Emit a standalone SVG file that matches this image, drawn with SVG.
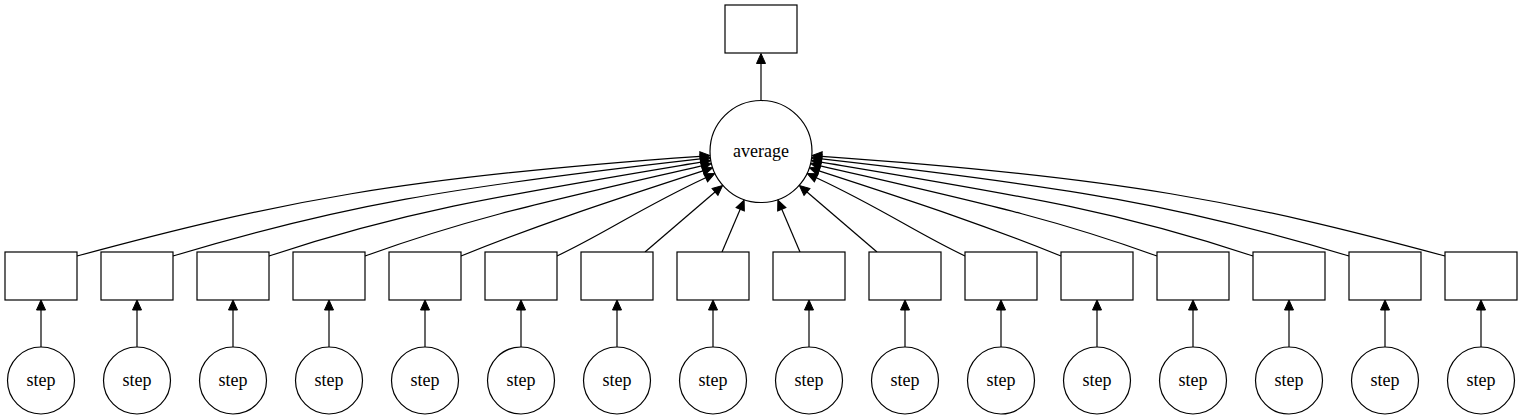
<svg xmlns="http://www.w3.org/2000/svg" width="1523" height="419" viewBox="0 0 1523 419">
<style>
.box{fill:#fff;stroke:#000;stroke-width:1.2}
.circ{fill:#fff;stroke:#000;stroke-width:1.2}
.edge{fill:none;stroke:#000;stroke-width:1.2;marker-end:url(#ah)}
</style>
<defs>
<marker id="ah" markerUnits="userSpaceOnUse" markerWidth="14" markerHeight="12" viewBox="-1 -6 14 12" refX="0" refY="0" orient="auto" overflow="visible">
<path d="M0,-4.5 L10,0 L0,4.5 Z" fill="#000" stroke="#000" stroke-width="1"/>
</marker>
</defs>
<rect width="1523" height="419" fill="#fff"/>
<g id="connectors">
<path class="edge" d="M761,100.5 L761,63.5"/>
<path class="edge" d="M41,347 L41,310"/>
<path class="edge" d="M137,347 L137,310"/>
<path class="edge" d="M233,347 L233,310"/>
<path class="edge" d="M329,347 L329,310"/>
<path class="edge" d="M425,347 L425,310"/>
<path class="edge" d="M521,347 L521,310"/>
<path class="edge" d="M617,347 L617,310"/>
<path class="edge" d="M713,347 L713,310"/>
<path class="edge" d="M809,347 L809,310"/>
<path class="edge" d="M905,347 L905,310"/>
<path class="edge" d="M1001,347 L1001,310"/>
<path class="edge" d="M1097,347 L1097,310"/>
<path class="edge" d="M1193,347 L1193,310"/>
<path class="edge" d="M1289,347 L1289,310"/>
<path class="edge" d="M1385,347 L1385,310"/>
<path class="edge" d="M1481,347 L1481,310"/>
<path class="edge" d="M77,256 C277,202 400.8,177.2 700.1,156.3"/>
<path class="edge" d="M173,256 C342,205.3 449,187.5 700.4,158.9"/>
<path class="edge" d="M269,256 C407,210.5 496.6,196.3 700.8,162.1"/>
<path class="edge" d="M365,256 C473,217.1 543.7,202.3 701.6,165.8"/>
<path class="edge" d="M461,256 C538,225.2 592.7,206.7 703,170.9"/>
<path class="edge" d="M557,256 C605,233.4 640.4,208.2 705.7,177.8"/>
<path class="edge" d="M645,252 L715,192"/>
<path class="edge" d="M722,252 L740.2,209.3"/>
<path class="edge" d="M800,252 L781.8,209.3"/>
<path class="edge" d="M877,252 L807,192"/>
<path class="edge" d="M965,256 C917,233.4 881.6,208.2 816.3,177.8"/>
<path class="edge" d="M1061,256 C984,225.2 929.3,206.7 819,170.9"/>
<path class="edge" d="M1157,256 C1049,217.1 978.3,202.3 820.4,165.8"/>
<path class="edge" d="M1253,256 C1115,210.5 1025.4,196.3 821.2,162.1"/>
<path class="edge" d="M1349,256 C1180,205.3 1073,187.5 821.6,158.9"/>
<path class="edge" d="M1445,256 C1245,202 1121.2,177.2 821.9,156.3"/>
</g>
<g id="result"><rect class="box" x="725" y="5" width="72" height="48"/></g>
<g id="average"><circle class="circ" cx="761" cy="151.5" r="51"/><text font-family="Liberation Serif" font-size="18" text-anchor="middle" x="761" y="157">average</text></g>
<g id="box0"><rect class="box" x="5" y="252" width="72" height="48"/></g>
<g id="box1"><rect class="box" x="101" y="252" width="72" height="48"/></g>
<g id="box2"><rect class="box" x="197" y="252" width="72" height="48"/></g>
<g id="box3"><rect class="box" x="293" y="252" width="72" height="48"/></g>
<g id="box4"><rect class="box" x="389" y="252" width="72" height="48"/></g>
<g id="box5"><rect class="box" x="485" y="252" width="72" height="48"/></g>
<g id="box6"><rect class="box" x="581" y="252" width="72" height="48"/></g>
<g id="box7"><rect class="box" x="677" y="252" width="72" height="48"/></g>
<g id="box8"><rect class="box" x="773" y="252" width="72" height="48"/></g>
<g id="box9"><rect class="box" x="869" y="252" width="72" height="48"/></g>
<g id="box10"><rect class="box" x="965" y="252" width="72" height="48"/></g>
<g id="box11"><rect class="box" x="1061" y="252" width="72" height="48"/></g>
<g id="box12"><rect class="box" x="1157" y="252" width="72" height="48"/></g>
<g id="box13"><rect class="box" x="1253" y="252" width="72" height="48"/></g>
<g id="box14"><rect class="box" x="1349" y="252" width="72" height="48"/></g>
<g id="box15"><rect class="box" x="1445" y="252" width="72" height="48"/></g>
<g font-family="Liberation Serif" font-size="18" text-anchor="middle">
<g id="step0"><circle class="circ" cx="41" cy="380.5" r="33.5"/><text x="41" y="386">step</text></g>
<g id="step1"><circle class="circ" cx="137" cy="380.5" r="33.5"/><text x="137" y="386">step</text></g>
<g id="step2"><circle class="circ" cx="233" cy="380.5" r="33.5"/><text x="233" y="386">step</text></g>
<g id="step3"><circle class="circ" cx="329" cy="380.5" r="33.5"/><text x="329" y="386">step</text></g>
<g id="step4"><circle class="circ" cx="425" cy="380.5" r="33.5"/><text x="425" y="386">step</text></g>
<g id="step5"><circle class="circ" cx="521" cy="380.5" r="33.5"/><text x="521" y="386">step</text></g>
<g id="step6"><circle class="circ" cx="617" cy="380.5" r="33.5"/><text x="617" y="386">step</text></g>
<g id="step7"><circle class="circ" cx="713" cy="380.5" r="33.5"/><text x="713" y="386">step</text></g>
<g id="step8"><circle class="circ" cx="809" cy="380.5" r="33.5"/><text x="809" y="386">step</text></g>
<g id="step9"><circle class="circ" cx="905" cy="380.5" r="33.5"/><text x="905" y="386">step</text></g>
<g id="step10"><circle class="circ" cx="1001" cy="380.5" r="33.5"/><text x="1001" y="386">step</text></g>
<g id="step11"><circle class="circ" cx="1097" cy="380.5" r="33.5"/><text x="1097" y="386">step</text></g>
<g id="step12"><circle class="circ" cx="1193" cy="380.5" r="33.5"/><text x="1193" y="386">step</text></g>
<g id="step13"><circle class="circ" cx="1289" cy="380.5" r="33.5"/><text x="1289" y="386">step</text></g>
<g id="step14"><circle class="circ" cx="1385" cy="380.5" r="33.5"/><text x="1385" y="386">step</text></g>
<g id="step15"><circle class="circ" cx="1481" cy="380.5" r="33.5"/><text x="1481" y="386">step</text></g>
</g>
</svg>
